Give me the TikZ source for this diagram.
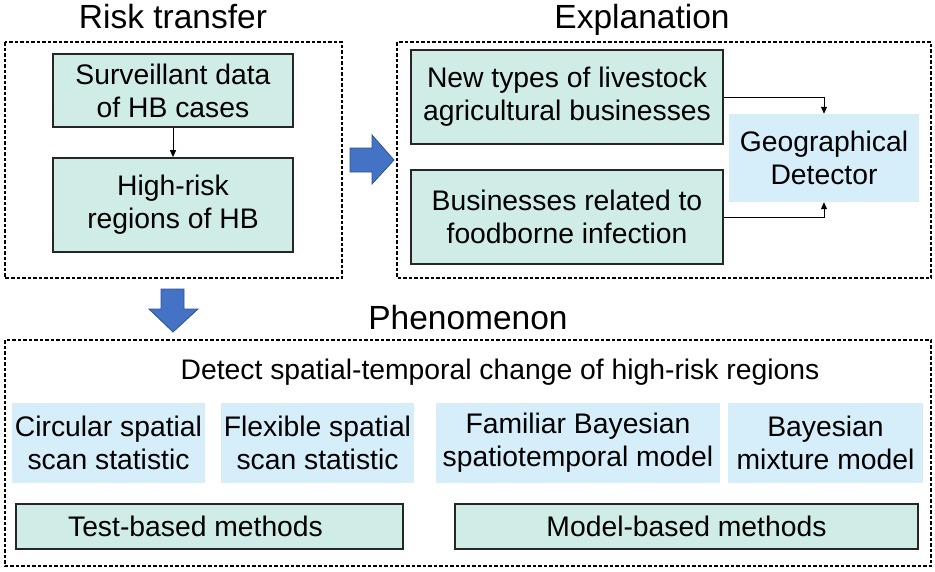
\documentclass[tikz,border=0pt]{standalone}
\usepackage{fontspec}
\setmainfont{Liberation Sans}
\usetikzlibrary{arrows.meta}
\definecolor{tealfill}{RGB}{207,236,231}
\definecolor{bluefill}{RGB}{214,238,250}
\definecolor{arrowblue}{RGB}{68,114,196}
\definecolor{arrowedge}{RGB}{47,82,143}
\tikzset{
  x=1pt, y=-1pt,
  frame/.style={draw=black, line width=1.1pt, dash pattern=on 3.5pt off 2pt},
  tealbox/.style={draw=black!85, line width=1.7pt, fill=tealfill, inner sep=0pt, align=center,
     font=\fontsize{28.3}{33}\selectfont},
  bluebox/.style={fill=bluefill, inner sep=0pt, align=center, font=\fontsize{28.3}{33}\selectfont},
  title/.style={anchor=base, font=\fontsize{33.5}{38}\selectfont, inner sep=0pt},
  plain/.style={anchor=base, font=\fontsize{28.3}{33}\selectfont, inner sep=0pt},
  conn/.style={draw=black, line width=1pt, -{Triangle[length=7pt,width=6pt]}},
  bigarrow/.style={fill=arrowblue, draw=arrowedge, line width=0.8pt, line join=miter}
}
\begin{document}
\begin{tikzpicture}
\useasboundingbox (0,0) rectangle (935,571);
% titles
\node[title] (tRisk) at (173,28) {Risk transfer};
\node[title] (tExp) at (642,28) {Explanation};
\node[title] (tPhen) at (468,329) {Phenomenon};
% frames
\draw[frame] (5,42) rectangle (342,278);
\draw[frame] (397,42) rectangle (931,278);
\draw[frame] (5,340) rectangle (931,566);
% risk transfer
\node[tealbox, minimum width=240pt, minimum height=73pt] (s1) at (173,90.5) {Surveillant data\\of HB cases};
\node[tealbox, minimum width=240pt, minimum height=94pt] (s2) at (173,205) {High-risk\\regions of HB};
\draw[conn] (s1.south) -- (s2.north);
% explanation
\node[tealbox, minimum width=312pt, minimum height=94pt] (e1) at (567,97) {New types of livestock\\agricultural businesses};
\node[tealbox, minimum width=312pt, minimum height=94pt] (e2) at (567,217) {Businesses related to\\foodborne infection};
\node[bluebox, minimum width=190pt, minimum height=88pt] (geo) at (824,158) {Geographical\\Detector};
\draw[conn] (e1.east) -| (geo.north);
\draw[conn] (e2.east) -| (geo.south);
% big arrows
\draw[bigarrow] (350,148) -- (372,148) -- (372,135) -- (394,160) -- (372,184) -- (372,172) -- (350,172) -- cycle;
\draw[bigarrow] (161,289) -- (184,289) -- (184,309) -- (198,309) -- (173,332) -- (149,309) -- (161,309) -- cycle;
% phenomenon
\node[plain] (detect) at (500,379) {Detect spatial-temporal change of high-risk regions};
\node[bluebox, minimum width=193pt, minimum height=80pt] (c1) at (108.5,443) {Circular spatial\\scan statistic};
\node[bluebox, minimum width=193pt, minimum height=80pt] (c2) at (317.5,443) {Flexible spatial\\scan statistic};
\node[bluebox, minimum width=284pt, minimum height=80pt] (c3) at (578,443) {Familiar Bayesian\\spatiotemporal model};
\node[bluebox, minimum width=195pt, minimum height=80pt] (c4) at (825.5,443) {Bayesian\\mixture model};
\node[tealbox, minimum width=387pt, minimum height=45pt] (m1) at (209.5,526.5) {\hspace*{-28pt}Test-based methods};
\node[tealbox, minimum width=463pt, minimum height=45pt] (m2) at (686.5,526.5) {Model-based methods};
\end{tikzpicture}
\end{document}
